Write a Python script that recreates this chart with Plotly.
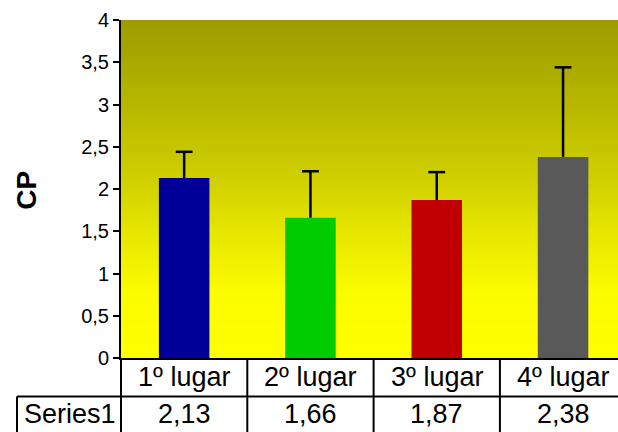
import plotly.graph_objects as go

categories = ["1º lugar", "2º lugar", "3º lugar", "4º lugar"]
values = [2.13, 1.66, 1.87, 2.38]
errors_plus = [0.31, 0.55, 0.33, 1.06]
bar_colors = ["#000099", "#00CC00", "#C00000", "#595959"]
series_name = "Series1"
y_ticks = [0, 0.5, 1, 1.5, 2, 2.5, 3, 3.5, 4]

W, H = 618, 432
ML, MR, MT, MB = 121, 0, 20, 73.5
XMIN, XMAX = -0.5, 3.435
plot_w = W - ML - MR
plot_h = H - MT - MB

def px_to_paper_x(px):
    return (px - ML) / plot_w

def px_to_paper_y(py):
    return (H - MB - py) / plot_h

def cat_to_paper_x(c):
    return (c - XMIN) / (XMAX - XMIN)

FONT = "Liberation Sans, Arial, sans-serif"
TBL_SIZE = 27
xs = list(range(len(categories)))

fig = go.Figure()
fig.add_trace(go.Bar(
    x=xs, y=values, width=0.4,
    marker=dict(color=bar_colors, line=dict(width=0)),
    showlegend=False, hoverinfo="skip",
))

# upper error bars (plus direction only): stems and caps from the data
stem_x, stem_y = [], []
for k, (v, e) in enumerate(zip(values, errors_plus)):
    stem_x += [k, k, None]
    stem_y += [v, v + e, None]
fig.add_trace(go.Scatter(x=stem_x, y=stem_y, mode="lines",
                         line=dict(color="black", width=2.5),
                         showlegend=False, hoverinfo="skip"))
fig.add_trace(go.Scatter(x=xs, y=[v + e for v, e in zip(values, errors_plus)],
                         mode="markers",
                         marker=dict(symbol="line-ew", size=12,
                                     line=dict(color="black", width=2.5)),
                         showlegend=False, hoverinfo="skip"))

shapes = []
stops = [(0.0, 155), (0.25, 182), (0.5, 210), (0.65, 232), (0.82, 252), (1.0, 255)]
def grad(t):
    for (t0, c0), (t1, c1) in zip(stops[:-1], stops[1:]):
        if t0 <= t <= t1:
            return c0 + (c1 - c0) * (t - t0) / (t1 - t0)
    return stops[-1][1]
N = 120
for i in range(N):
    y0 = 1 - (i + 1) / N
    y1 = 1 - i / N
    t = (i + 0.5) / N
    c = int(round(grad(t)))
    shapes.append(dict(type="rect", xref="paper", yref="paper",
                       x0=0, x1=1, y0=max(0, y0), y1=min(1, y1 + 1.0 / N),
                       fillcolor=f"rgb({c},{c},0)", line=dict(width=0),
                       layer="below"))

LW = 2
row1_bot = px_to_paper_y(397)
tbl_bot = px_to_paper_y(440)
shapes.append(dict(type="line", xref="paper", yref="paper", x0=0, x1=0,
                   y0=0, y1=tbl_bot, line=dict(color="black", width=LW)))
for k in range(len(categories)):
    xb = cat_to_paper_x(k + 0.5)
    if xb < 1:
        shapes.append(dict(type="line", xref="paper", yref="paper", x0=xb, x1=xb,
                           y0=0, y1=tbl_bot, line=dict(color="black", width=LW)))
shapes.append(dict(type="line", xref="paper", yref="paper",
                   x0=px_to_paper_x(17), x1=1.02, y0=row1_bot, y1=row1_bot,
                   line=dict(color="black", width=LW)))
shapes.append(dict(type="line", xref="paper", yref="paper",
                   x0=px_to_paper_x(17), x1=px_to_paper_x(17), y0=row1_bot, y1=tbl_bot,
                   line=dict(color="black", width=LW)))

annotations = []
row1_mid = px_to_paper_y(378)
row2_mid = px_to_paper_y(415)
for k, (cat, v) in enumerate(zip(categories, values)):
    annotations.append(dict(x=cat_to_paper_x(k), y=row1_mid, xref="paper", yref="paper",
                            text=cat, showarrow=False, xanchor="center", yanchor="middle",
                            font=dict(family=FONT, size=TBL_SIZE, color="black")))
    annotations.append(dict(x=cat_to_paper_x(k), y=row2_mid, xref="paper", yref="paper",
                            text=f"{v:.2f}".replace(".", ","), showarrow=False,
                            xanchor="center", yanchor="middle",
                            font=dict(family=FONT, size=TBL_SIZE, color="black")))
annotations.append(dict(x=px_to_paper_x(70), y=row2_mid, xref="paper", yref="paper",
                        text=series_name, showarrow=False, xanchor="center", yanchor="middle",
                        font=dict(family=FONT, size=TBL_SIZE, color="black")))
annotations.append(dict(x=px_to_paper_x(27), y=px_to_paper_y(191), xref="paper", yref="paper",
                        text="<b>CP</b>", showarrow=False, textangle=-90,
                        xanchor="center", yanchor="middle",
                        font=dict(family=FONT, size=28, color="black")))

fig.update_layout(
    width=W, height=H,
    margin=dict(l=ML, r=MR, t=MT, b=MB, pad=0),
    paper_bgcolor="white", plot_bgcolor="rgba(0,0,0,0)",
    separators=",.",
    bargap=0.6,
    shapes=shapes, annotations=annotations,
    xaxis=dict(range=[XMIN, XMAX], showticklabels=False, showgrid=False,
               zeroline=False, showline=True, linecolor="black", linewidth=2,
               ticks="", fixedrange=True),
    yaxis=dict(range=[0, 4], tickvals=y_ticks, showgrid=False, zeroline=False,
               showline=True, linecolor="black", linewidth=2,
               ticks="outside", ticklen=6, tickwidth=1.5, tickcolor="black",
               tickfont=dict(family=FONT, size=20, color="black"),
               fixedrange=True),
    showlegend=False,
)

fig.write_html("out.html",
               config={"displayModeBar": False},
               post_script="document.body.style.margin='0px';"
                           "document.body.style.overflow='hidden';")
